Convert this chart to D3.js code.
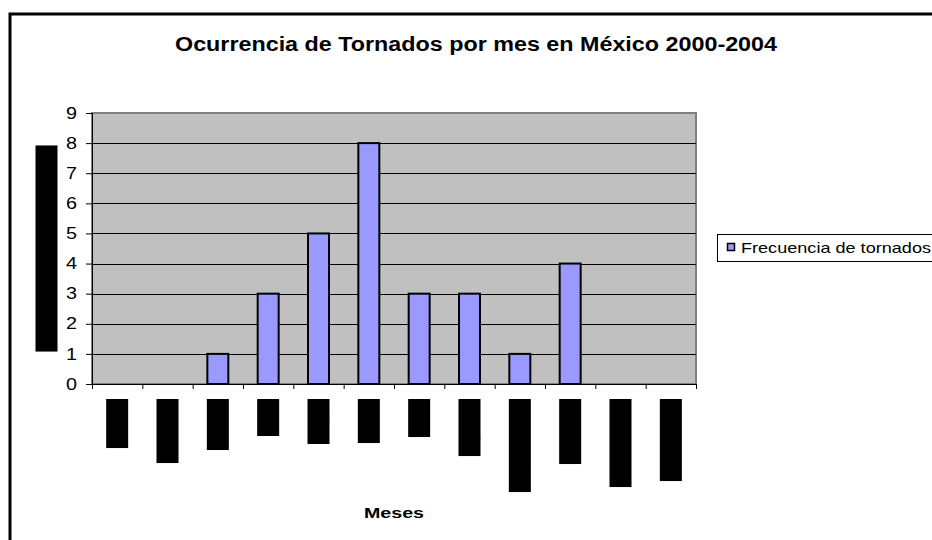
<!DOCTYPE html>
<html>
<head>
<meta charset="utf-8">
<script src="https://cdn.jsdelivr.net/npm/d3@7"></script>
<style>
  html, body { margin: 0; padding: 0; background: #fff; }
  svg { display: block; font-family: "Liberation Sans", Arial, sans-serif; }
</style>
</head>
<body>
<svg id="chart" width="932" height="540"></svg>
<script>
const title = "Ocurrencia de Tornados por mes en México 2000-2004";
const months = ["Enero", "Febrero", "Marzo", "Abril", "Mayo", "Junio", "Julio", "Agosto", "Septiembre", "Octubre", "Noviembre", "Diciembre"];
const frecuencia = [0, 0, 1, 3, 5, 8, 3, 3, 1, 4, 0, 0];
const yTicks = [0, 1, 2, 3, 4, 5, 6, 7, 8, 9];
const seriesName = "Frecuencia de tornados";
const xTitle = "Meses";
const yTitle = "Frecuencia de ocurrencia";

const svg = d3.select("#chart");
const plot = { left: 92, right: 696, top: 113, bottom: 384 };
const barColor = "#9999FF";

// outer chart border
svg.append("rect")
  .attr("x", 10).attr("y", 14)
  .attr("width", 940).attr("height", 540)
  .attr("fill", "#fff").attr("stroke", "#000").attr("stroke-width", 3);

const x = d3.scaleBand().domain(months).range([plot.left, plot.right])
  .paddingInner(0.583).paddingOuter(0.2915);
const xEdge = d3.scaleLinear().domain([0, months.length]).range([plot.left, plot.right]);
const y = d3.scaleLinear().domain([0, 9]).range([plot.bottom, plot.top]);

// plot area
svg.append("rect")
  .attr("x", plot.left).attr("y", plot.top)
  .attr("width", plot.right - plot.left).attr("height", plot.bottom - plot.top)
  .attr("fill", "#C0C0C0").attr("stroke", "#808080").attr("stroke-width", 2);

// gridlines
svg.append("g").selectAll("line")
  .data(yTicks.filter(d => d > 0 && d < 9))
  .join("line")
  .attr("x1", plot.left).attr("x2", plot.right)
  .attr("y1", d => Math.round(y(d)) + 0.5).attr("y2", d => Math.round(y(d)) + 0.5)
  .attr("stroke", "#000").attr("stroke-width", 1);

// bars
svg.append("g").selectAll("rect")
  .data(frecuencia.map((v, i) => ({ m: months[i], v })).filter(d => d.v > 0))
  .join("rect")
  .attr("x", d => x(d.m))
  .attr("y", d => y(d.v))
  .attr("width", x.bandwidth())
  .attr("height", d => y(0) - y(d.v))
  .attr("fill", barColor).attr("stroke", "#000").attr("stroke-width", 2);

// y axis
const yAxis = svg.append("g")
  .attr("transform", `translate(${plot.left},0)`)
  .call(d3.axisLeft(y).tickValues(yTicks).tickSize(6).tickPadding(9).tickFormat(d3.format("d")));
yAxis.select(".domain").attr("stroke", "#000");
yAxis.selectAll(".tick line").attr("stroke", "#000");
yAxis.selectAll(".tick text")
  .attr("font-family", "Liberation Sans, Arial, sans-serif")
  .attr("font-size", 16).attr("fill", "#000")
  .attr("textLength", 11).attr("lengthAdjust", "spacingAndGlyphs");

// x axis (ticks at category boundaries)
const xAxis = svg.append("g")
  .attr("transform", `translate(0,${plot.bottom})`)
  .call(d3.axisBottom(xEdge).tickValues(d3.range(months.length + 1)).tickSize(5).tickFormat(""));
xAxis.select(".domain").attr("stroke", "#000");
xAxis.selectAll(".tick line").attr("stroke", "#000");

// month labels (rendered as solid black blocks as in the reference)
const mg = svg.append("g").selectAll("g")
  .data(months)
  .join("g")
  .attr("transform", d => `translate(${x(d) + x.bandwidth() / 2},399) rotate(-90)`);
mg.append("text")
  .attr("text-anchor", "end")
  .attr("dominant-baseline", "central")
  .attr("font-size", 18)
  .attr("fill", "#000")
  .text(d => d);
mg.each(function () {
  const g = d3.select(this);
  const len = g.select("text").node().getComputedTextLength() + 1;
  g.insert("rect", "text")
    .attr("x", -len).attr("y", -11)
    .attr("width", len).attr("height", 22)
    .attr("fill", "#000");
});

// y axis title (black block)
const yt = svg.append("g")
  .attr("transform", `translate(46.5,${(plot.top + plot.bottom) / 2}) rotate(-90)`);
const ytText = yt.append("text")
  .attr("text-anchor", "middle").attr("dominant-baseline", "central")
  .attr("font-size", 18).attr("fill", "#000")
  .text(yTitle);
const ytLen = ytText.node().getComputedTextLength() + 3;
yt.insert("rect", "text")
  .attr("x", -ytLen / 2).attr("y", -11)
  .attr("width", ytLen).attr("height", 22).attr("fill", "#000");

// title
svg.append("text")
  .attr("x", 476).attr("y", 51)
  .attr("text-anchor", "middle")
  .attr("font-size", 19.5).attr("font-weight", "bold").attr("fill", "#000")
  .attr("textLength", 602).attr("lengthAdjust", "spacingAndGlyphs")
  .text(title);

// x axis title
svg.append("text")
  .attr("x", (plot.left + plot.right) / 2).attr("y", 518)
  .attr("text-anchor", "middle")
  .attr("font-size", 15).attr("font-weight", "bold").attr("fill", "#000")
  .attr("textLength", 60).attr("lengthAdjust", "spacingAndGlyphs")
  .text(xTitle);

// legend
const lg = svg.append("g");
lg.append("rect")
  .attr("x", 717.5).attr("y", 234.5).attr("width", 230).attr("height", 27)
  .attr("fill", "#fff").attr("stroke", "#000").attr("stroke-width", 1);
lg.append("rect")
  .attr("x", 727.5).attr("y", 243.5).attr("width", 7).attr("height", 7)
  .attr("fill", barColor).attr("stroke", "#000").attr("stroke-width", 1.5);
lg.append("text")
  .attr("x", 741).attr("y", 253)
  .attr("font-size", 15).attr("fill", "#000")
  .attr("textLength", 190).attr("lengthAdjust", "spacingAndGlyphs")
  .text(seriesName);
</script>
</body>
</html>
